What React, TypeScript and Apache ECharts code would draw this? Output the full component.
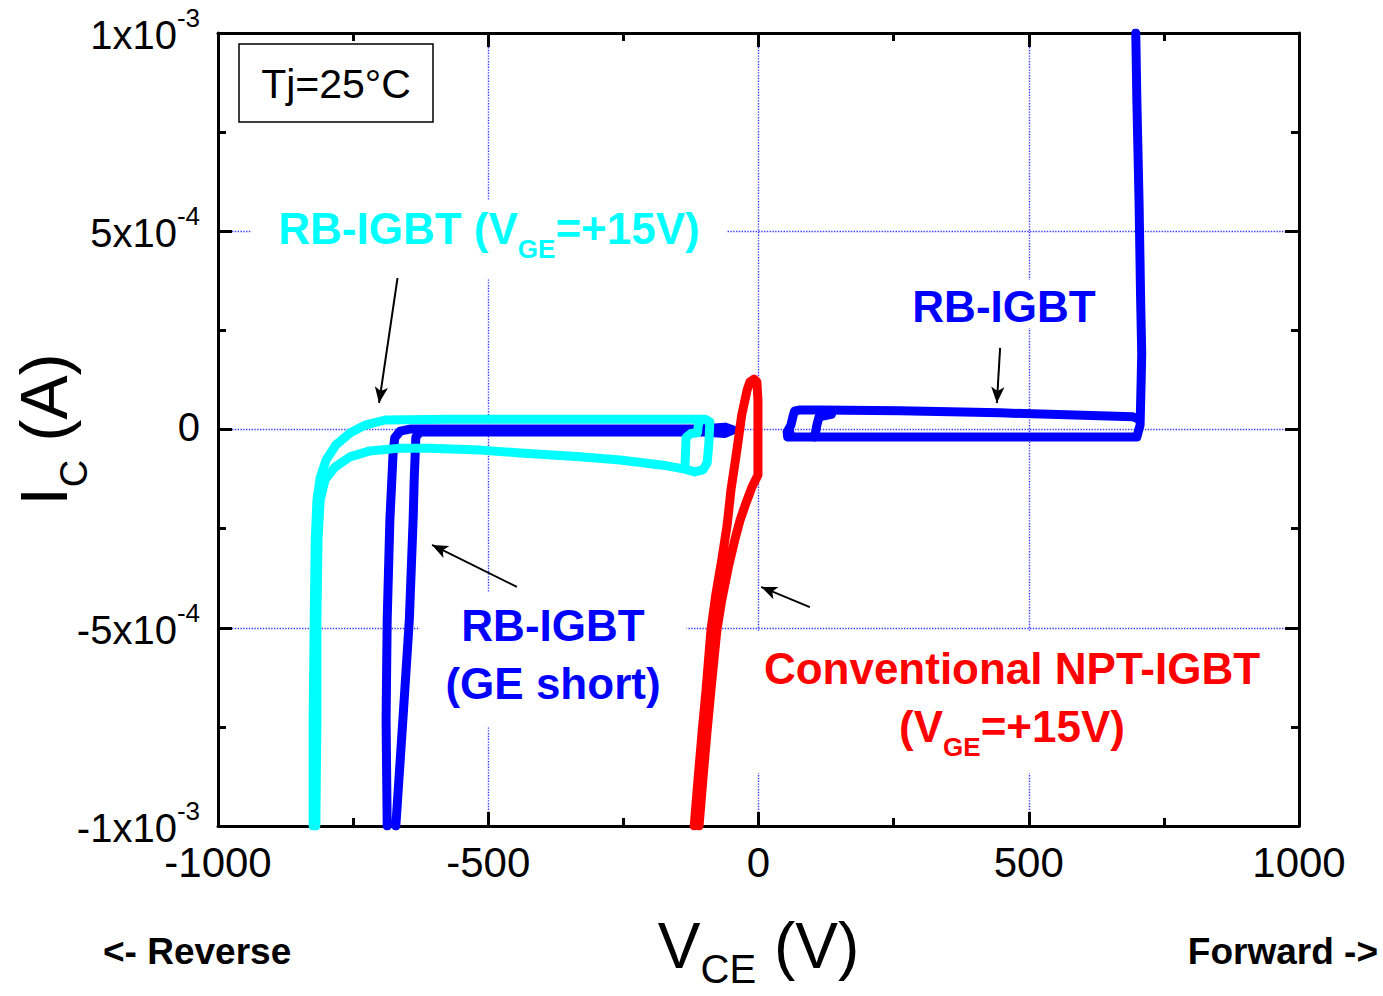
import React, { useEffect, useRef } from "react";
import * as echarts from "echarts";

const FONT = '"Liberation Sans", Arial, Helvetica, sans-serif';

// Axis ticks (V_CE in V, I_C in units of 1e-4 A)
const xMin = -1000;
const xMax = 1000;
const xStep = 500;
const yMin = -10;
const yMax = 10;
const yStep = 5;
const yTickValues = [-10, -5, 0, 5, 10];
const yTickMantissa = ["-1", "-5", "0", "5", "1"];
const yTickExponent = ["-3", "-4", "", "-4", "-3"];

// Curves: [V_CE (V), I_C (x1e-4 A)]
const rbGeShort: number[][] = [
  [-687, -10], [-689, -7.33], [-687, -4.8], [-682, -2.28], [-676, -0.59], [-673, -0.21],
  [-663, -0.04], [-645, 0.01], [-293, 0.01], [-108, 0.01], [-62, 0.06], [-47, -0.01],
  [-62, -0.1], [-108, -0.06], [-201, -0.06], [-626, -0.06], [-634, -0.19], [-637, -1.27],
  [-639, -2.28], [-646, -4.8], [-658, -7.33], [-671, -10],
];

const rbVge15: number[][] = [
  [-824, -10], [-824, -7.33], [-822, -4.8], [-820, -2.78], [-817, -1.78], [-811, -1.22],
  [-800, -0.77], [-782, -0.39], [-756, -0.09], [-728, 0.11], [-691, 0.24], [-571, 0.26],
  [-293, 0.26], [-99, 0.26], [-90, 0.19], [-92, -0.39], [-95, -0.84], [-103, -1.02],
  [-118, -1.07], [-136, -1.0], [-177, -0.9], [-256, -0.77], [-330, -0.69], [-441, -0.59],
  [-515, -0.52], [-608, -0.47], [-663, -0.47], [-719, -0.54], [-756, -0.69], [-784, -0.95],
  [-802, -1.27], [-811, -1.78], [-815, -2.78], [-817, -4.8], [-817, -7.33], [-819, -10],
];

const rbVge15Inner: number[][] = [
  [-136, -0.95], [-134, -0.2], [-125, -0.1], [-113, -0.08], [-110, 0.24],
];

const rbForwardLower: number[][] = [
  [58, -0.06], [58, -0.19], [77, -0.19], [447, -0.19], [700, -0.19], [706, 0.11],
  [708, 1.25], [709, 1.93], [707, 3.27], [704, 5.8], [700, 8.3], [698, 10],
];

const rbForwardUpper: number[][] = [
  [700, 0.28], [693, 0.32], [447, 0.42], [262, 0.47], [114, 0.49], [77, 0.49],
  [67, 0.47], [64, 0.34], [60, 0.11], [53, -0.06], [54, -0.19],
];

const rbForwardInner: number[][] = [
  [104, -0.19], [108, 0.11], [112, 0.32], [135, 0.38],
];

const nptVge15: number[][] = [
  [-119, -10], [-112, -8.84], [-104, -7.58], [-97, -6.57], [-88, -5.06], [-79, -4.17],
  [-68, -3.29], [-58, -2.41], [-51, -1.53], [-40, -0.52], [-31, 0.37], [-21, 1.0],
  [-16, 1.2], [-8, 1.27], [-3, 1.2], [-1, 0.74], [-1, -0.26], [-1, -1.15], [-12, -1.45],
  [-23, -1.85], [-34, -2.28], [-44, -2.79], [-55, -3.42], [-68, -4.3], [-77, -5.06],
  [-88, -6.57], [-95, -7.58], [-103, -8.84], [-110, -10],
];

// Annotation arrows: [start, end] in data coordinates
const arrowStarts: number[][] = [[-667, 3.9], [-447, -3.97], [95, -4.48], [447, 2.06]];
const arrowEnds: number[][] = [[-702, 0.67], [-604, -2.91], [5, -3.97], [441, 0.67]];

const CYAN = "#00ffff";
const BLUE = "#0000ff";
const RED = "#ff0000";

function lineSeries(data: number[][], color: string, extra: any = {}) {
  return {
    type: "line",
    data,
    showSymbol: false,
    symbol: "none",
    silent: true,
    smooth: false,
    lineStyle: { color, width: 9, cap: "round", join: "round" },
    ...extra,
  };
}

function axisCommon() {
  return {
    type: "value",
    axisLine: { show: true, onZero: false, lineStyle: { color: "#000", width: 3 } },
    axisTick: { show: true, inside: true, length: 14, lineStyle: { color: "#000", width: 3 } },
    minorTick: { show: true, splitNumber: 2, length: 8, lineStyle: { color: "#000", width: 3 } },
  };
}

const gridLine = { show: true, lineStyle: { type: "dotted", color: "#3c3cff", width: 1.4 } };

export default function App() {
  const ref = useRef<HTMLDivElement>(null);

  useEffect(() => {
    if (!ref.current) return;
    const chart = echarts.init(ref.current, undefined, { renderer: "svg" });

    const labelRichMain = (color: string) => ({
      fontSize: 44, fontWeight: "bold", fontFamily: FONT, fill: color, verticalAlign: "top", lineHeight: 58,
    });
    const labelRichSub = (color: string) => ({
      fontSize: 26, fontWeight: "bold", fontFamily: FONT, fill: color, verticalAlign: "top", lineHeight: 58,
      padding: [30, 0, 0, 0],
    });

    const option: any = {
      animation: false,
      backgroundColor: "#fff",
      grid: { left: 218, right: 84, top: 33, bottom: 170, containLabel: false, outerBoundsMode: "none" },
      xAxis: [
        {
          ...axisCommon(),
          position: "bottom",
          min: xMin, max: xMax, interval: xStep,
          splitLine: gridLine,
          axisLabel: {
            fontSize: 42, fontFamily: FONT, color: "#000", margin: 15,
            formatter: (v: number) => String(v),
          },
          name: "{m|V}{s|CE}{m| (V)}",
          nameLocation: "middle",
          nameGap: 88,
          nameMoveOverlap: false,
          nameTextStyle: {
            rich: {
              m: { fontSize: 64, fontFamily: FONT, color: "#000", verticalAlign: "top" },
              s: { fontSize: 40, fontFamily: FONT, color: "#000", verticalAlign: "top", padding: [35, 0, 0, 0] },
            },
          },
        },
        {
          ...axisCommon(),
          position: "top",
          min: xMin, max: xMax, interval: xStep,
          splitLine: { show: false },
          axisLabel: { show: false },
        },
      ],
      yAxis: [
        {
          ...axisCommon(),
          position: "left",
          min: yMin, max: yMax, interval: yStep,
          splitLine: gridLine,
          axisLabel: {
            fontSize: 40, fontFamily: FONT, color: "#000", margin: 18,
            padding: [0, 0, 6, 0],
            formatter: (v: number) => {
              const i = yTickValues.indexOf(Math.round(v));
              if (i < 0) return "";
              if (!yTickExponent[i]) return yTickMantissa[i];
              return `{m|${yTickMantissa[i]}x10}{s|${yTickExponent[i]}}`;
            },
            rich: {
              m: { fontSize: 40, fontFamily: FONT, color: "#000", verticalAlign: "top", padding: [10, 0, 0, 0] },
              s: { fontSize: 26, fontFamily: FONT, color: "#000", verticalAlign: "top" },
            },
          },
          name: "{m|I}{s|C}{m| (A)}",
          nameLocation: "middle",
          nameRotate: 90,
          nameGap: 125,
          nameMoveOverlap: false,
          nameTextStyle: {
            rich: {
              m: { fontSize: 66, fontFamily: FONT, color: "#000", verticalAlign: "top" },
              s: { fontSize: 38, fontFamily: FONT, color: "#000", verticalAlign: "top", padding: [44, 0, 0, 0] },
            },
          },
        },
        {
          ...axisCommon(),
          position: "right",
          min: yMin, max: yMax, interval: yStep,
          splitLine: { show: false },
          axisLabel: { show: false },
        },
      ],
      series: [
        lineSeries(rbGeShort, BLUE),
        lineSeries(rbForwardLower, BLUE),
        lineSeries(rbForwardUpper, BLUE),
        lineSeries(rbForwardInner, BLUE),
        lineSeries(rbVge15, CYAN),
        lineSeries(rbVge15Inner, CYAN),
        lineSeries(nptVge15, RED, {
          markLine: {
            silent: true,
            symbol: ["none", "arrow"],
            symbolSize: [10, 16],
            label: { show: false },
            lineStyle: { type: "solid", color: "#000", width: 2 },
            emphasis: { disabled: true },
            data: arrowStarts.map((s, i) => [{ coord: s }, { coord: arrowEnds[i] }]),
          },
        }),
      ],
      graphic: [
        {
          type: "rect", z: 10,
          shape: { x: 239, y: 44, width: 194, height: 78 },
          style: { fill: "#fff", stroke: "#000", lineWidth: 1.5 },
        },
        {
          type: "text", z: 11, x: 336, y: 84,
          style: {
            text: "Tj=25°C", fontSize: 41, fontFamily: FONT, fill: "#000",
            align: "center", verticalAlign: "middle",
          },
        },
        {
          type: "text", z: 10, x: 489, y: 200,
          style: {
            text: "{m|RB-IGBT (V}{s|GE}{m|=+15V)}",
            align: "center", verticalAlign: "top",
            backgroundColor: "#fff", padding: [6, 27, 14, 27],
            rich: { m: labelRichMain(CYAN), s: labelRichSub(CYAN) },
          },
        },
        {
          type: "text", z: 10, x: 553, y: 593,
          style: {
            text: "{m|RB-IGBT}\n{m|(GE short)}",
            align: "center", verticalAlign: "top",
            backgroundColor: "#fff", padding: [10, 26, 8, 26],
            rich: { m: labelRichMain(BLUE) },
          },
        },
        {
          type: "text", z: 10, x: 1004, y: 280,
          style: {
            text: "{m|RB-IGBT}",
            align: "center", verticalAlign: "top",
            backgroundColor: "#fff", padding: [4, 6, 0, 6],
            rich: { m: { ...labelRichMain(BLUE), lineHeight: 44 } },
          },
        },
        {
          type: "text", z: 10, x: 1012, y: 632,
          style: {
            text: "{m|Conventional NPT-IGBT}\n{m|(V}{s|GE}{m|=+15V)}",
            align: "center", verticalAlign: "top",
            backgroundColor: "#fff", padding: [14, 8, 11, 8],
            rich: { m: labelRichMain(RED), s: labelRichSub(RED) },
          },
        },
        {
          type: "text", z: 10, x: 103, y: 951,
          style: {
            text: "<- Reverse", fontSize: 37, fontWeight: "bold", fontFamily: FONT, fill: "#000",
            align: "left", verticalAlign: "middle",
          },
        },
        {
          type: "text", z: 10, x: 1378, y: 951,
          style: {
            text: "Forward ->", fontSize: 37, fontWeight: "bold", fontFamily: FONT, fill: "#000",
            align: "right", verticalAlign: "middle",
          },
        },
      ],
    };

    chart.setOption(option);
    return () => chart.dispose();
  }, []);

  return (
    <div
      ref={ref}
      style={{ position: "absolute", left: 0, top: 0, width: 1383, height: 996, background: "#fff" }}
    />
  );
}
